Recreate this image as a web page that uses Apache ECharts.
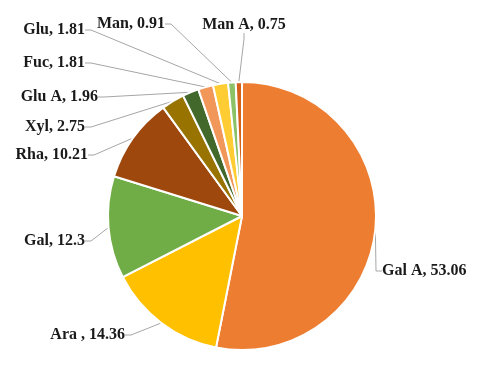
<!DOCTYPE html>
<html><head><meta charset="utf-8">
<script src="https://cdn.jsdelivr.net/npm/echarts@6/dist/echarts.min.js"></script>
<style>html,body{margin:0;padding:0;background:#fff;}#c{width:488px;height:366px;}</style>
</head><body><div id="c"></div>
<script>
const categories = ['Gal A', 'Ara ', 'Gal', 'Rha', 'Xyl', 'Glu A', 'Fuc', 'Glu', 'Man', 'Man A'];
const values = [53.06, 14.36, 12.3, 10.21, 2.75, 1.96, 1.81, 1.81, 0.91, 0.75];
const colors = ['#ED7D31', '#FFC000', '#70AD47', '#9E480E', '#997300', '#43682B', '#F1975A', '#FFCD33', '#8CC168', '#D5601A'];
// label anchor placements (x, y, align)
const labelPos = [
  [382, 271, 'left'],
  [125, 335, 'right'],
  [85, 241, 'right'],
  [88, 155, 'right'],
  [85, 127, 'right'],
  [98, 97, 'right'],
  [85, 63, 'right'],
  [85, 30, 'right'],
  [165, 24, 'right'],
  [244, 25, 'center']
];
const chart = echarts.init(document.getElementById('c'), null, {renderer: 'canvas'});
chart.setOption({
  animation: false,
  series: [{
    type: 'pie',
    center: [242, 216],
    radius: [0, 134],
    startAngle: 90,
    clockwise: true,
    avoidLabelOverlap: false,
    data: categories.map((n, i) => ({name: n, value: values[i], itemStyle: {color: colors[i]}})),
    itemStyle: {borderColor: '#fff', borderWidth: 2},
    label: {
      show: true,
      formatter: p => p.name + ', ' + p.value,
      fontFamily: 'Liberation Serif',
      fontWeight: 'bold',
      fontSize: 16,
      color: '#1a1a1a'
    },
    labelLine: {show: true, length: 8, length2: 6, lineStyle: {color: '#A6A6A6', width: 1}},
    labelLayout: p => {
      const lp = labelPos[p.dataIndex];
      return {x: lp[0], y: lp[1], align: lp[2], verticalAlign: 'middle'};
    }
  }]
});
</script></body></html>
